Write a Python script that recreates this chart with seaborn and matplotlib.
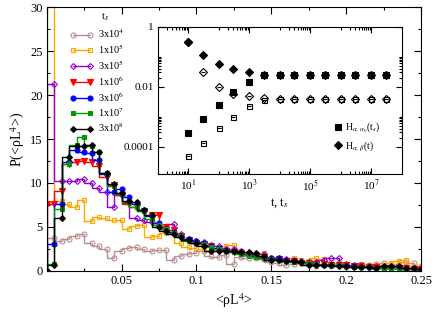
import numpy as np
import pandas as pd
import matplotlib
matplotlib.use("Agg")
import matplotlib.pyplot as plt
import seaborn as sns
from matplotlib.ticker import FixedLocator, MultipleLocator, NullFormatter

# ---------------- data ----------------
x_vals = [round(0.005 * i, 3) for i in range(51)]

ts_labels = ["3x10$^4$", "1x10$^5$", "3x10$^5$", "1x10$^6$", "3x10$^6$", "1x10$^7$", "3x10$^8$"]

p_3e4 = [0, 3.7, 3.4, 3.6, 4.0, 4.2, 3.1, 2.8, 2.5, 1.4, 2.3, 2.6, 2.7, 2.5, 2.3, 2.4, 2.4, 1.2, 1.7, 1.9, 2.0,
         2.2, 1.7, 1.6, 1.8, 0.8, 1.6, 1.5, 1.4, 1.3, 1.0, 0.9, 0.6, 0.8, 0.9, 0.7, 0.5, 0.6, 0.5, 0.6, 0.4,
         0.5, 0.6, 0.7, 0.8, 0.9, 0.7, 0.8, 1.0, 0.9, 0.5]
p_1e5 = [0, 45.0, 7.9, 7.6, 7.2, 8.0, 5.7, 6.1, 6.0, 5.8, 5.8, 4.7, 5.1, 5.2, 3.8, 3.9, 4.3, 4.6, 3.1, 2.7, 2.6,
         2.5, 2.3, 2.6, 2.8, 2.9, 2.2, 2.0, 1.9, 2.0, 1.5, 1.3, 1.2, 1.4, 1.2, 1.1, 1.4, 1.3, 1.0, 0.9, 0.8,
         0.7, 0.8, 0.6, 0.7, 0.6, 0.9, 1.1, 1.2, 0.5, 0.4]
p_3e5 = [0, 21.3, 10.2, 10.2, 10.2, 10.4, 10.0, 9.4, 9.0, 7.3, 8.6, 7.7, 6.0, 5.8, 5.6, 5.2, 5.0, 5.3, 4.2, 3.6, 3.4,
         3.3, 2.9, 2.8, 2.5, 2.5, 2.3, 1.9, 1.8, 1.9, 1.5, 1.4, 1.3, 1.2, 1.1, 1.0, 1.0, 1.2, 1.4, 1.4, 0.8,
         0.7, 0.6, 0.5, 0.5, 0.4, 0.4, 0.3, 0.3, 0.3, 0.2]
p_1e6 = [7.6, 7.6, 9.1, 12.2, 12.4, 12.5, 12.4, 11.9, 10.7, 9.8, 8.6, 7.6, 7.3, 6.8, 6.3, 6.3, 5.0, 4.6, 3.9, 3.5, 3.2,
         3.0, 2.8, 2.5, 2.3, 2.1, 2.0, 1.8, 1.7, 1.6, 1.2, 1.3, 1.1, 1.1, 0.9, 0.9, 0.8, 0.8, 0.7, 0.6, 0.6,
         0.5, 0.5, 0.4, 0.4, 0.35, 0.3, 0.3, 0.25, 0.2, 0.2]
p_3e6 = [0, 3.0, 7.6, 12.4, 13.7, 13.5, 13.4, 12.6, 11.0, 9.0, 9.3, 8.4, 7.6, 6.9, 6.2, 5.4, 4.8, 4.4, 4.0, 3.6, 3.4,
         3.1, 2.8, 2.6, 2.4, 2.2, 2.0, 1.8, 1.7, 1.5, 1.4, 1.5, 1.2, 1.1, 1.0, 0.9, 0.8, 0.7, 0.7, 0.6, 0.5,
         0.5, 0.4, 0.4, 0.35, 0.3, 0.3, 0.25, 0.2, 0.2, 0.15]
p_1e7 = [0, 0.8, 7.0, 12.1, 14.3, 15.2, 14.2, 13.5, 11.1, 9.6, 8.7, 7.8, 7.3, 6.8, 5.9, 5.2, 4.7, 4.3, 3.9, 3.4, 3.2,
         3.0, 2.7, 2.5, 2.3, 2.1, 1.9, 1.8, 1.6, 1.5, 1.3, 1.2, 1.1, 1.0, 0.95, 0.85, 0.8, 0.7, 0.65, 0.6, 0.5,
         0.45, 0.4, 0.4, 0.35, 0.3, 0.3, 0.25, 0.2, 0.2, 0.15]
p_3e8 = [0, 0.65, 6.0, 13.0, 14.2, 14.2, 14.3, 13.5, 11.1, 9.9, 8.9, 7.9, 7.8, 6.9, 6.3, 5.0, 4.5, 4.2, 3.8, 3.5, 3.1,
         2.8, 2.3, 2.3, 2.3, 2.2, 2.1, 2.1, 2.0, 1.7, 1.2, 1.2, 1.1, 1.1, 1.0, 0.7, 0.7, 0.6, 0.6, 0.55, 0.5,
         0.45, 0.4, 0.4, 0.35, 0.5, 0.5, 0.5, 0.3, 0.3, 0.2]

# inset
t_vals = [1e1, 3e1, 1e2, 3e2, 1e3, 3e3, 1e4, 3e4, 1e5, 3e5, 1e6, 3e6, 1e7, 3e7]
H_a_a0_filled = [2.9e-4, 8.2e-4, 2.5e-3, 6.5e-3, 1.47e-2, 2.4e-2, 2.45e-2, 2.45e-2, 2.45e-2, 2.45e-2,
                 2.45e-2, 2.45e-2, 2.45e-2, 2.45e-2]
H_a_b_filled = [0.32, 0.114, 0.056, 0.039, 0.032, 0.025, 0.0245, 0.0245, 0.0245, 0.0245,
                0.0245, 0.0245, 0.0245, 0.0245]
H_a_a0_open = [4.7e-5, 1.3e-4, 4.1e-4, 1.0e-3, 2.3e-3, 3.5e-3, 3.8e-3, 3.8e-3, 3.8e-3, 3.8e-3,
               3.8e-3, 3.8e-3, 3.8e-3, 3.8e-3]
H_a_b_open = [0.30, 0.030, 0.0095, 0.0055, 0.0049, 0.0041, 0.0039, 0.0039, 0.0039, 0.0039,
              0.0039, 0.0039, 0.0039, 0.0039]

# ---------------- style ----------------
sns.set_theme(context="paper", style="ticks")
plt.rcParams["font.family"] = ["Liberation Serif", "DejaVu Serif"]
plt.rcParams["mathtext.fontset"] = "stix"
plt.rcParams["axes.edgecolor"] = "black"
plt.rcParams["axes.linewidth"] = 0.8
for k in ("xtick.color", "ytick.color", "text.color", "axes.labelcolor"):
    plt.rcParams[k] = "black"

fig = plt.figure(figsize=(4.36, 3.12), dpi=100)
ax = fig.add_axes([0.107, 0.1324, 0.859, 0.844])

series = [
    (p_3e4, "#bc8f8f", "o", True, 3.6),
    (p_1e5, "#ffa500", "s", True, 3.4),
    (p_3e5, "#9400d3", "D", True, 3.0),
    (p_1e6, "#ff0000", "v", False, 3.8),
    (p_3e6, "#0000ff", "o", False, 3.6),
    (p_1e7, "#009a00", "s", False, 3.4),
    (p_3e8, "#000000", "D", False, 3.0),
]

for (yv, col, mk, hollow, ms), lab in zip(series, ts_labels):
    df = pd.DataFrame({"x": x_vals, "y": yv})
    sns.lineplot(data=df, x="x", y="y", ax=ax, color=col, marker=mk,
                 markerfacecolor=("none" if hollow else col), markeredgecolor=col,
                 markeredgewidth=0.8, markersize=ms, linewidth=1.0,
                 drawstyle="steps-pre", estimator=None, sort=False, label=lab)

ax.set_xlim(0, 0.25)
ax.set_ylim(0, 30)
ax.set_xticks([0, 0.05, 0.1, 0.15, 0.2, 0.25])
ax.set_xticklabels(["", "0.05", "0.1", "0.15", "0.2", "0.25"])
ax.set_yticks([0, 5, 10, 15, 20, 25, 30])
ax.set_yticklabels(["0", "5", "10", "15", "20", "25", "30"])
ax.xaxis.set_minor_locator(MultipleLocator(0.025))
ax.yaxis.set_minor_locator(MultipleLocator(2.5))
ax.tick_params(which="both", direction="in", top=True, right=True, width=0.8, labelsize=9, pad=3)
ax.tick_params(which="major", length=5)
ax.tick_params(which="minor", length=2.5)
ax.set_xlabel("<ρL$^4$>", fontsize=10, labelpad=3)
ax.set_ylabel("P(<ρL$^4$>)", fontsize=10, labelpad=2)

ax.legend(loc="upper left", bbox_to_anchor=(0.05, 0.94), frameon=False,
          fontsize=7.5, handlelength=2.3, numpoints=2,
          labelspacing=0.22, handletextpad=0.4, borderaxespad=0.0)
ax.text(0.157, 0.963, "t$_s$", transform=ax.transAxes, fontsize=8, ha="center", va="center")

# ---------------- inset ----------------
axi = fig.add_axes([0.362, 0.442, 0.559, 0.472])
axi.set_xscale("log")
axi.set_yscale("log")

def pts(yv, mk, ms, hollow, lab):
    df = pd.DataFrame({"t": t_vals, "h": yv})
    sns.lineplot(data=df, x="t", y="h", ax=axi, color="black", marker=mk, linestyle="none",
                 markerfacecolor=("none" if hollow else "black"), markeredgecolor="black",
                 markeredgewidth=0.8, markersize=ms, estimator=None, sort=False, label=lab)
    if hollow:
        sns.lineplot(data=df, x="t", y="h", ax=axi, color="black", marker="_", linestyle="none",
                     markeredgecolor="black", markeredgewidth=0.8, markersize=ms * 0.8,
                     estimator=None, sort=False, label="_nolegend_")

pts(H_a_a0_open, "s", 3.6, True, "_nolegend_")
pts(H_a_b_open, "D", 3.8, True, "_nolegend_")
pts(H_a_a0_filled, "s", 4.3, False, r"H$_{\alpha,\,\alpha_0}$(t$_s$)")
pts(H_a_b_filled, "D", 4.3, False, r"H$_{\alpha,\,\beta}$(t)")

axi.set_xlim(1, 1e8)
axi.set_ylim(1.2e-5, 1)
axi.xaxis.set_major_locator(FixedLocator([1e1, 1e3, 1e5, 1e7]))
axi.set_xticklabels(["10$^1$", "10$^3$", "10$^5$", "10$^7$"])
xminor = []
for e in (0, 2, 4, 6):
    xminor += [m * 10.0 ** e for m in range(1, 10)]
axi.xaxis.set_minor_locator(FixedLocator(xminor))
axi.xaxis.set_minor_formatter(NullFormatter())
axi.yaxis.set_major_locator(FixedLocator([1e-4, 1e-2, 1]))
axi.set_yticklabels(["0.0001", "0.01", "1"])
yminor = []
for e in (-4, -2):
    yminor += [m * 10.0 ** e for m in range(2, 11)]
axi.yaxis.set_minor_locator(FixedLocator(yminor))
axi.yaxis.set_minor_formatter(NullFormatter())
axi.tick_params(which="both", direction="in", top=True, right=True, width=0.8, labelsize=8, pad=3)
axi.tick_params(which="major", length=4.5)
axi.tick_params(which="minor", length=2.5)
axi.set_xlabel("t, t$_s$", fontsize=9, labelpad=2)
axi.set_ylabel("")
axi.legend(loc="lower right", bbox_to_anchor=(0.93, 0.12), frameon=False, fontsize=7,
           handlelength=0.8, numpoints=1, handletextpad=0.3, labelspacing=0.35, borderaxespad=0.0)

fig.savefig("out.png", dpi=100)
